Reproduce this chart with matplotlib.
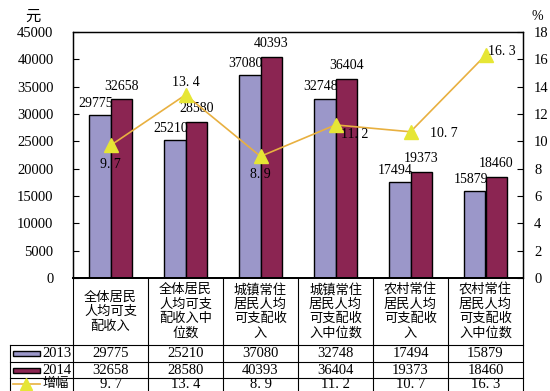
import numpy as np
import matplotlib.pyplot as plt
import matplotlib.transforms as mtransforms
from matplotlib.patches import Rectangle
from matplotlib.lines import Line2D

plt.rcParams['font.family'] = ['Liberation Serif', 'Noto Sans CJK SC']

# data
categories = ["全体居民\n人均可支\n配收入",
              "全体居民\n人均可支\n配收入中\n位数",
              "城镇常住\n居民人均\n可支配收\n入",
              "城镇常住\n居民人均\n可支配收\n入中位数",
              "农村常住\n居民人均\n可支配收\n入",
              "农村常住\n居民人均\n可支配收\n入中位数"]
income_2013 = [29775, 25210, 37080, 32748, 17494, 15879]
income_2014 = [32658, 28580, 40393, 36404, 19373, 18460]
growth = [9.7, 13.4, 8.9, 11.2, 10.7, 16.3]
growth_labels = ["9. 7", "13. 4", "8. 9", "11. 2", "10. 7", "16. 3"]
# offsets (points) of the growth labels from their markers
growth_offsets = [(0, -14), (0, 9), (0, -13), (14, -7), (24, -1), (12, 3)]

c2013 = "#9b97c9"
c2014 = "#8b2552"
cline = "#e8b040"
cmark = "#e6e635"

W, H = 550, 391
fig = plt.figure(figsize=(W / 100, H / 100), dpi=100)
# plot area in pixels: x 73..523, y 32..278
ax = fig.add_axes([73 / W, (H - 278) / H, 450 / W, 246 / H])
ax2 = ax.twinx()

x = np.arange(len(categories))
bw = 0.287
ax.bar(x - bw / 2, income_2013, bw, color=c2013, edgecolor="black", linewidth=1, zorder=2)
ax.bar(x + bw / 2, income_2014, bw, color=c2014, edgecolor="black", linewidth=1, zorder=2)

for i in range(len(x)):
    ax.annotate(str(income_2013[i]), (x[i] - bw / 2, income_2013[i]), xytext=(-3, 4),
                textcoords="offset points", ha="center", va="bottom", fontsize=10)
    ax.annotate(str(income_2014[i]), (x[i] + bw / 2, income_2014[i]), xytext=(0, 5),
                textcoords="offset points", ha="center", va="bottom", fontsize=10)

ax.set_xlim(-0.5, len(categories) - 0.5)
ax.set_ylim(0, 45000)
ax.set_yticks(np.arange(0, 45001, 5000))
ax.set_xticks([])
ax.tick_params(axis="y", direction="in", length=4, pad=14, labelsize=10.5)

ax2.plot(x, growth, color=cline, linewidth=1.2, marker="^", markersize=10,
         markerfacecolor=cmark, markeredgecolor=cmark, zorder=3)
for i in range(len(x)):
    dx, dy = growth_offsets[i]
    ax2.annotate(growth_labels[i], (x[i], growth[i]), xytext=(dx, dy),
                 textcoords="offset points", ha="center", va="center", fontsize=10)
ax2.set_ylim(0, 18)
ax2.set_yticks(np.arange(0, 19, 2))
ax2.tick_params(axis="y", direction="in", length=4, pad=8, labelsize=10.5)

for a in (ax, ax2):
    a.spines["bottom"].set_linewidth(1.3)
    for s in ("left", "right", "top"):
        a.spines[s].set_linewidth(0.9)

fig.text(33 / W, 1 - 16 / H, "元", fontsize=11, ha="center", va="center",
         family=["Noto Sans CJK SC"])
fig.text(537 / W, 1 - 16 / H, "%", fontsize=10, ha="center", va="center")

# data table under the plot: x in category units, y in axes fraction
tr = mtransforms.blended_transform_factory(ax.transData, ax.transAxes)
px = 1 / 246
row_y = [0, -67 * px, -84 * px, -100 * px, -116 * px]
left = -0.5 - 63 / 75
right = len(categories) - 0.5
lkw = dict(color="black", linewidth=0.8, transform=tr, clip_on=False)

for yy in row_y[1:]:
    ax.add_line(Line2D([left, right], [yy, yy], **lkw))
for k in range(len(categories) + 1):
    ax.add_line(Line2D([k - 0.5, k - 0.5], [0, row_y[-1]], **lkw))
ax.add_line(Line2D([left, left], [row_y[1], row_y[-1]], **lkw))

for i, cat in enumerate(categories):
    ax.text(x[i], (row_y[0] + row_y[1]) / 2, cat, transform=tr, ha="center", va="center",
            fontsize=9.5, linespacing=1.15, family=["Noto Sans CJK SC"])

rows = [income_2013, income_2014, growth_labels]
for r, vals in enumerate(rows):
    yc = (row_y[r + 1] + row_y[r + 2]) / 2
    if r == 2:
        yc += 2 * px
    for i, v in enumerate(vals):
        ax.text(x[i], yc, str(v), transform=tr, ha="center", va="center", fontsize=10.5)

# legend keys inside the table
kx0 = -0.5 - 60 / 75
kx1 = -0.5 - 33 / 75
for r, col in enumerate([c2013, c2014]):
    yc = (row_y[r + 1] + row_y[r + 2]) / 2
    ax.add_patch(Rectangle((kx0, yc - 2.5 * px), kx1 - kx0, 5 * px, facecolor=col,
                           edgecolor="black", linewidth=1, transform=tr, clip_on=False))
    ax.text(kx1 + 2 / 75, yc, ["2013", "2014"][r], transform=tr, ha="left", va="center",
            fontsize=10.5)
yc = (row_y[3] + row_y[4]) / 2 + 2 * px
ax.add_line(Line2D([kx0, kx1], [yc, yc], color=cline, linewidth=1.2, transform=tr,
                   clip_on=False))
ax.add_line(Line2D([(kx0 + kx1) / 2], [yc], marker="^", markersize=8, color=cmark,
                   transform=tr, clip_on=False))
ax.text(kx1 + 2 / 75, yc, "增幅", transform=tr, ha="left", va="center", fontsize=9.5,
        family=["Noto Sans CJK SC"])

fig.savefig("out.png", dpi=100)
